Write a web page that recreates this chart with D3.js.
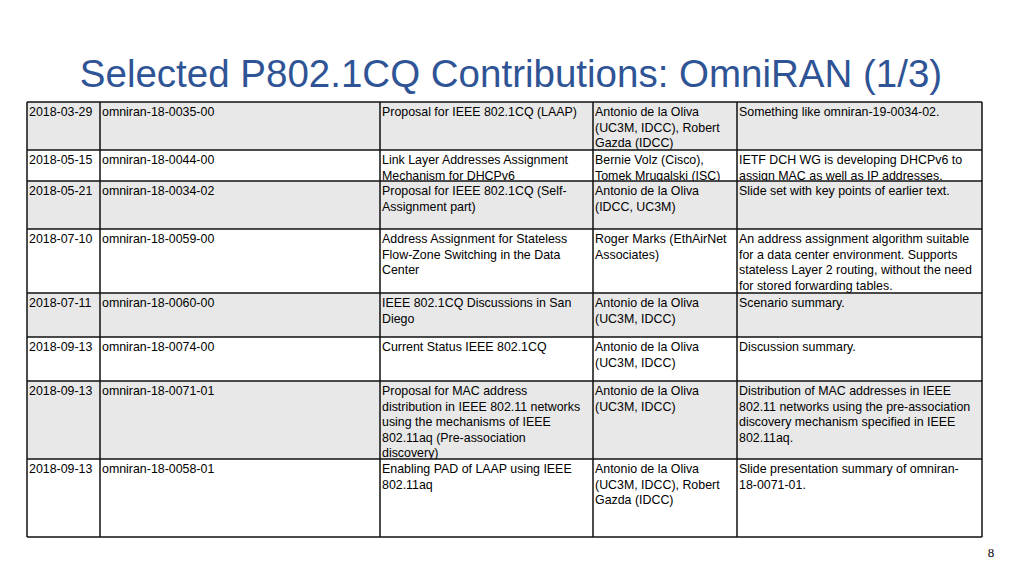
<!DOCTYPE html>
<html><head><meta charset="utf-8">
<script src="https://cdn.jsdelivr.net/npm/d3@7"></script>
<style>body{margin:0;background:#fff}</style>
</head><body>
<svg id="slide" width="1024" height="576"></svg>
<script>
const dates = ["2018-03-29","2018-05-15","2018-05-21","2018-07-10","2018-07-11","2018-09-13","2018-09-13","2018-09-13"]
const docs = ["omniran-18-0035-00","omniran-18-0044-00","omniran-18-0034-02","omniran-18-0059-00","omniran-18-0060-00","omniran-18-0074-00","omniran-18-0071-01","omniran-18-0058-01"]
const titles = [
  ["Proposal for IEEE 802.1CQ (LAAP)"],
  ["Link Layer Addresses Assignment","Mechanism for DHCPv6"],
  ["Proposal for IEEE 802.1CQ (Self-","Assignment part)"],
  ["Address Assignment for Stateless","Flow-Zone Switching in the Data","Center"],
  ["IEEE 802.1CQ Discussions in San","Diego"],
  ["Current Status IEEE 802.1CQ"],
  ["Proposal for MAC address","distribution in IEEE 802.11 networks","using the mechanisms of IEEE","802.11aq (Pre-association","discovery)"],
  ["Enabling PAD of LAAP using IEEE","802.11aq"]
]
const authors = [
  ["Antonio de la Oliva","(UC3M, IDCC), Robert","Gazda (IDCC)"],
  ["Bernie Volz (Cisco),","Tomek Mrugalski (ISC)"],
  ["Antonio de la Oliva","(IDCC, UC3M)"],
  ["Roger Marks (EthAirNet","Associates)"],
  ["Antonio de la Oliva","(UC3M, IDCC)"],
  ["Antonio de la Oliva","(UC3M, IDCC)"],
  ["Antonio de la Oliva","(UC3M, IDCC)"],
  ["Antonio de la Oliva","(UC3M, IDCC), Robert","Gazda (IDCC)"]
]
const notes = [
  ["Something like omniran-19-0034-02."],
  ["IETF DCH WG is developing DHCPv6 to","assign MAC as well as IP addresses."],
  ["Slide set with key points of earlier text."],
  ["An address assignment algorithm suitable","for a data center environment. Supports","stateless Layer 2 routing, without the need","for stored forwarding tables."],
  ["Scenario summary."],
  ["Discussion summary."],
  ["Distribution of MAC addresses in IEEE","802.11 networks using the pre-association","discovery mechanism specified in IEEE","802.11aq."],
  ["Slide presentation summary of omniran-","18-0071-01."]
]

// layout
const colEdges = [27, 100, 380, 593, 737, 982]
const rowEdges = [102, 150, 181, 229, 293, 337, 381, 459, 537]
const lineH = 15.6

const svg = d3.select("#slide")
svg.append("text").attr("x", 511).attr("y", 87).attr("text-anchor", "middle")
  .attr("font-family", "Liberation Sans, Arial, sans-serif").attr("font-size", 38.5)
  .attr("fill", "#2f5496").text("Selected P802.1CQ Contributions: OmniRAN (1/3)")

const rows = dates.map((d, i) => [[d], [docs[i]], titles[i], authors[i], notes[i]])
const g = svg.append("g")
const rowG = g.selectAll("g.row").data(rows).join("g").attr("class", "row")
rowG.append("rect")
  .attr("x", colEdges[0]).attr("width", colEdges[5] - colEdges[0])
  .attr("y", (d, i) => rowEdges[i]).attr("height", (d, i) => rowEdges[i + 1] - rowEdges[i])
  .attr("fill", (d, i) => i % 2 === 0 ? "#e8e8e8" : "#ffffff")
rowG.each(function (r, i) {
  const sel = d3.select(this)
  r.forEach((lines, c) => {
    const t = sel.append("text").attr("font-family", "Liberation Sans, Arial, sans-serif")
      .attr("font-size", 12.4).attr("fill", "#000")
    lines.forEach((ln, k) => {
      t.append("tspan").attr("x", colEdges[c] + 2).attr("y", rowEdges[i] + 14 + k * lineH).text(ln)
    })
  })
})
// grid lines
g.selectAll("line.h").data(rowEdges).join("line")
  .attr("x1", colEdges[0]).attr("x2", colEdges[5]).attr("y1", d => d).attr("y2", d => d)
  .attr("stroke", "#111").attr("stroke-width", 1.5)
g.selectAll("line.v").data(colEdges).join("line").attr("class", "v")
  .attr("y1", rowEdges[0]).attr("y2", rowEdges[rowEdges.length - 1]).attr("x1", d => d).attr("x2", d => d)
  .attr("stroke", "#111").attr("stroke-width", 1.5)

svg.append("text").attr("x", 991).attr("y", 557).attr("text-anchor", "middle")
  .attr("font-family", "Liberation Serif, serif").attr("font-size", 13).text("8")
</script>
</body></html>
